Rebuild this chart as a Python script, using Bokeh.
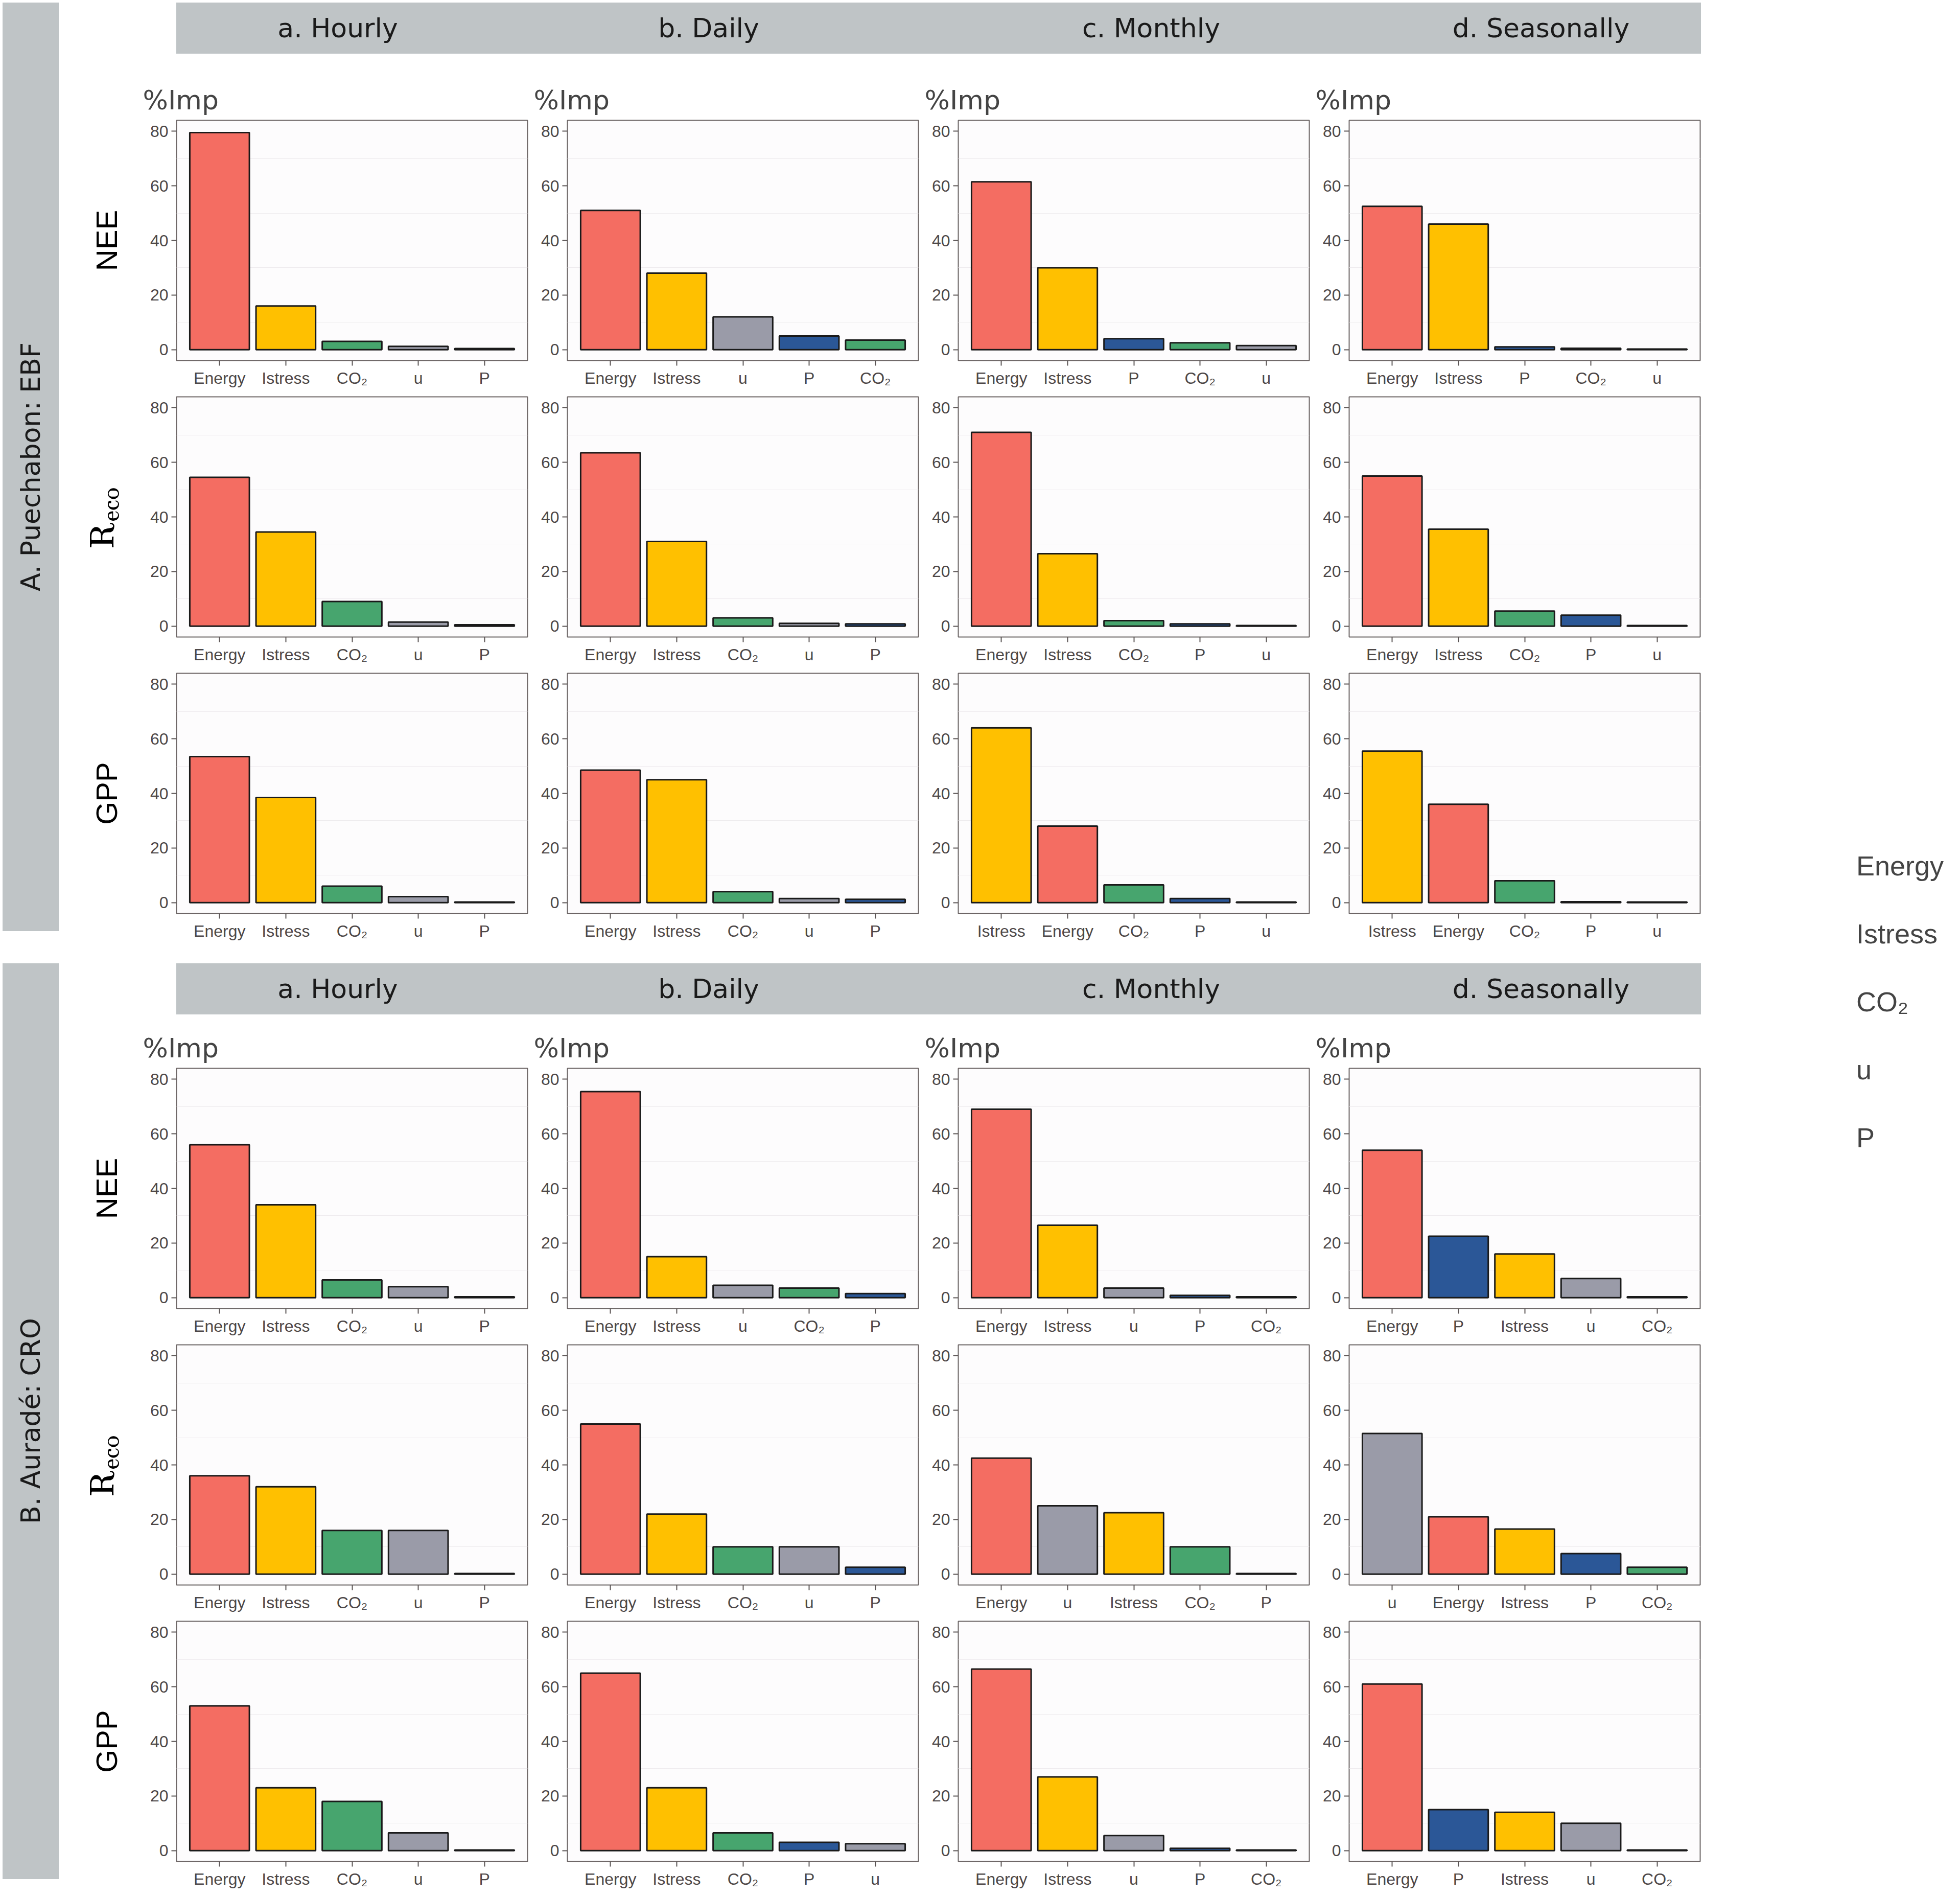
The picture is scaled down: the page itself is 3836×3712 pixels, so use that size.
from bokeh.plotting import figure
from bokeh.models import (FactorRange, Range1d, Div, Spacer, Legend, LegendItem,
                          FixedTicker, ColumnDataSource)
from bokeh.layouts import row, column
from bokeh.embed import file_html
from bokeh.resources import INLINE

# ---------------- data ----------------
colors = {"Energy": "#F46D62", "Istress": "#FFC000", "CO₂": "#47A56E",
          "u": "#9A9BA8", "P": "#2B5797"}
legend_colors = {"Energy": "#F46D62", "Istress": "#FFC000", "CO₂": "#47A56E",
                 "u": "#C2C6C8", "P": "#2B5797"}
scales = ["a. Hourly", "b. Daily", "c. Monthly", "d. Seasonally"]
fluxes = ["NEE", "Reco", "GPP"]
sites = ["A. Puechabon: EBF", "B. Auradé: CRO"]

# site A (Puechabon)
A_NEE_vars = [["Energy", "Istress", "CO₂", "u", "P"], ["Energy", "Istress", "u", "P", "CO₂"],
              ["Energy", "Istress", "P", "CO₂", "u"], ["Energy", "Istress", "P", "CO₂", "u"]]
A_NEE_vals = [[79.5, 16, 3, 1.2, 0.4], [51, 28, 12, 5, 3.5],
              [61.5, 30, 4, 2.5, 1.5], [52.5, 46, 1, 0.5, 0.2]]
A_Reco_vars = [["Energy", "Istress", "CO₂", "u", "P"], ["Energy", "Istress", "CO₂", "u", "P"],
               ["Energy", "Istress", "CO₂", "P", "u"], ["Energy", "Istress", "CO₂", "P", "u"]]
A_Reco_vals = [[54.5, 34.5, 9, 1.5, 0.5], [63.5, 31, 3, 1, 0.8],
               [71, 26.5, 2, 0.8, 0.2], [55, 35.5, 5.5, 4, 0.2]]
A_GPP_vars = [["Energy", "Istress", "CO₂", "u", "P"], ["Energy", "Istress", "CO₂", "u", "P"],
              ["Istress", "Energy", "CO₂", "P", "u"], ["Istress", "Energy", "CO₂", "P", "u"]]
A_GPP_vals = [[53.5, 38.5, 6, 2.2, 0.2], [48.5, 45, 4, 1.5, 1.2],
              [64, 28, 6.5, 1.5, 0.2], [55.5, 36, 8, 0.3, 0.2]]
# site B (Auradé)
B_NEE_vars = [["Energy", "Istress", "CO₂", "u", "P"], ["Energy", "Istress", "u", "CO₂", "P"],
              ["Energy", "Istress", "u", "P", "CO₂"], ["Energy", "P", "Istress", "u", "CO₂"]]
B_NEE_vals = [[56, 34, 6.5, 4, 0.3], [75.5, 15, 4.5, 3.5, 1.5],
              [69, 26.5, 3.5, 0.8, 0.3], [54, 22.5, 16, 7, 0.3]]
B_Reco_vars = [["Energy", "Istress", "CO₂", "u", "P"], ["Energy", "Istress", "CO₂", "u", "P"],
               ["Energy", "u", "Istress", "CO₂", "P"], ["u", "Energy", "Istress", "P", "CO₂"]]
B_Reco_vals = [[36, 32, 16, 16, 0.2], [55, 22, 10, 10, 2.5],
               [42.5, 25, 22.5, 10, 0.2], [51.5, 21, 16.5, 7.5, 2.5]]
B_GPP_vars = [["Energy", "Istress", "CO₂", "u", "P"], ["Energy", "Istress", "CO₂", "P", "u"],
              ["Energy", "Istress", "u", "P", "CO₂"], ["Energy", "P", "Istress", "u", "CO₂"]]
B_GPP_vals = [[53, 23, 18, 6.5, 0.2], [65, 23, 6.5, 3, 2.5],
              [66.5, 27, 5.5, 0.8, 0.2], [61, 15, 14, 10, 0.2]]

site_data = [
    [(A_NEE_vars, A_NEE_vals), (A_Reco_vars, A_Reco_vals), (A_GPP_vars, A_GPP_vals)],
    [(B_NEE_vars, B_NEE_vals), (B_Reco_vars, B_Reco_vals), (B_GPP_vars, B_GPP_vals)],
]

STRIP = "#BFC4C6"
FRAME_W, FRAME_H = 687, 470


def panel(vars_, vals, col, rown, flux, top_border):
    first = col == 0
    left = 205 if first else 68
    h = top_border + FRAME_H + 60
    w = left + FRAME_W + 10
    p = figure(x_range=FactorRange(*vars_, range_padding=0.06), y_range=Range1d(-4, 84),
               width=w, height=h, output_backend="svg", toolbar_location=None,
               min_border_left=left, min_border_right=10, min_border_top=top_border,
               min_border_bottom=60, background_fill_color="white",
               border_fill_color="white")
    p.frame_width = FRAME_W
    p.frame_height = FRAME_H
    src = ColumnDataSource(dict(x=vars_, top=vals, c=[colors[v] for v in vars_]))
    p.vbar(x="x", top="top", width=0.9, fill_color="c", line_color="#1a1a1a",
           line_width=3, source=src)
    p.background_fill_color = "#FDFCFD"
    p.outline_line_color = "#6b6464"
    p.outline_line_width = 2
    p.xgrid.grid_line_color = None
    p.ygrid.grid_line_color = None
    p.ygrid.minor_grid_line_color = "#EEEBEE"
    p.yaxis.ticker = FixedTicker(ticks=[0, 20, 40, 60, 80], minor_ticks=[10, 30, 50, 70])
    for ax in (p.xaxis[0], p.yaxis[0]):
        ax.axis_line_color = None
        ax.major_tick_line_color = "#5a5454"
        ax.major_tick_line_width = 2
        ax.major_tick_out = 10
        ax.major_tick_in = 0
        ax.minor_tick_line_color = None
        ax.major_label_text_font = "Liberation Sans"
        ax.major_label_text_font_size = "32px"
        ax.major_label_text_color = "#4d4747"
        ax.major_label_standoff = 6
    if first:
        if flux == "Reco":
            p.yaxis.axis_label = r"$$\mathrm{R_{eco}}$$"
        else:
            p.yaxis.axis_label = flux
        p.yaxis.axis_label_text_font = "Liberation Sans"
        p.yaxis.axis_label_text_font_style = "normal"
        p.yaxis.axis_label_text_font_size = "58px"
        p.yaxis.axis_label_text_color = "black"
        p.yaxis.axis_label_standoff = 50
    if rown == 0:
        p.title.text = "%Imp"
        p.title.text_font = "DejaVu Sans"
        p.title.text_font_size = "52px"
        p.title.text_font_style = "normal"
        p.title.offset = -66
        p.title.standoff = 20
    return p


def header():
    cells = [(632, scales[0]), (820, scales[1]), (912, scales[2]), (614, scales[3])]
    html = "".join(
        f'<div style="width:{w}px;text-align:center;">{t}</div>' for w, t in cells)
    return Div(text=f'<div style="display:flex;align-items:center;height:100px;">{html}</div>',
               width=2984, height=100,
               styles={"background-color": STRIP, "font-family": "DejaVu Sans",
                       "font-size": "52px", "color": "#1a1a1a"})


def block(si, top_border):
    rows = []
    for r, flux in enumerate(fluxes):
        vars_all, vals_all = site_data[si][r]
        tb = top_border if r == 0 else 11
        rows.append(row(*[panel(vars_all[c], vals_all[c], c, r, flux, tb) for c in range(4)],
                        spacing=0))
    total_h = 100 + (top_border + 530) + 2 * 541
    strip = Div(text=f'<div style="writing-mode:vertical-rl;transform:rotate(180deg);'
                     f'height:{total_h - 20}px;display:flex;align-items:center;'
                     f'justify-content:center;width:110px;">{sites[si]}</div>',
                width=110, height=total_h - 20,
                styles={"background-color": STRIP, "font-family": "DejaVu Sans",
                        "font-size": "52px", "color": "#1a1a1a"})
    head = row(Spacer(width=200, height=100), header(), spacing=0)
    return row(strip, Spacer(width=20, height=10),
               column(head, *rows, spacing=0), spacing=0)


blockA = block(0, 125)
blockB = block(1, 100)

# legend figure
lg = figure(width=490, height=3690, x_range=Range1d(0, 1), y_range=Range1d(0, 1),
            output_backend="svg", toolbar_location=None, min_border=0)
lg.axis.visible = False
lg.grid.visible = False
lg.outline_line_color = None
items = []
for name, c in legend_colors.items():
    r = lg.vbar(x=[], top=[], width=1, fill_color=c, line_color="#1a1a1a", line_width=4)
    items.append(LegendItem(label=name, renderers=[r]))
leg = Legend(items=items, location=(170, 1430), glyph_width=86, glyph_height=68,
             label_text_font="Liberation Sans", label_text_font_size="54px",
             label_standoff=40, spacing=65, border_line_color=None,
             background_fill_alpha=0, padding=0, margin=0)
lg.add_layout(leg, "center")

page = row(column(blockA, Spacer(height=33, width=10), blockB, spacing=0), lg, spacing=0)

open("out.html", "w").write(file_html(page, INLINE))
